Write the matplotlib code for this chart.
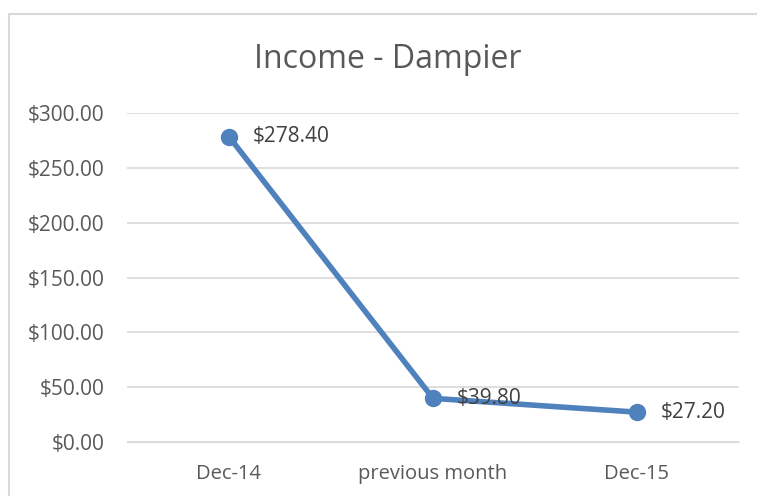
import matplotlib
matplotlib.use("Agg")
import matplotlib.pyplot as plt
from matplotlib.patches import Rectangle

categories = ["Dec-14", "previous month", "Dec-15"]
income = [278.40, 39.80, 27.20]
y_ticks = [0, 50, 100, 150, 200, 250, 300]

TEXT = "#595959"
LINE = "#4F81BD"
GRID = "#D9D9D9"

plt.rcParams["font.family"] = ["Open Sans", "DejaVu Sans"]

fig = plt.figure(figsize=(7.57, 4.96), dpi=100)
ax = fig.add_axes([127 / 757, 54 / 496, 612 / 757, 329 / 496])

# chart frame (runs off the right/bottom edge)
fig.patches.append(Rectangle((9 / 757, -0.1), 1.2, (496 - 14) / 496 + 0.1,
                             transform=fig.transFigure, fill=False,
                             edgecolor=GRID, lw=1.5))

x = range(len(categories))
ax.plot(x, income, color=LINE, lw=4, marker="o", markersize=11.5,
        solid_capstyle="round")
for xi, v in zip(x, income):
    ax.annotate(f"${v:,.2f}", (xi, v), xytext=(17, 0),
                textcoords="offset points", va="center", ha="left",
                fontsize=15, color="#404040")

ax.set_xlim(-0.5, len(categories) - 0.5)
ax.set_ylim(0, 300)
ax.set_yticks(y_ticks)
ax.set_yticklabels([f"${t:,.2f}" for t in y_ticks], fontsize=15, color=TEXT)
ax.set_xticks(list(x))
ax.set_xticklabels(categories, fontsize=14.5, color=TEXT)
ax.tick_params(length=0)
ax.tick_params(axis="y", pad=16)
ax.tick_params(axis="x", pad=16)
ax.grid(axis="y", color=GRID, lw=1.2)
ax.set_axisbelow(True)
for s in ax.spines.values():
    s.set_visible(False)
ax.spines["bottom"].set_visible(True)
ax.spines["bottom"].set_color(GRID)

fig.text(388 / 757, 1 - 59 / 496, "Income - Dampier", ha="center",
         va="center", fontsize=23, color=TEXT)

fig.savefig("out.png", dpi=100)
